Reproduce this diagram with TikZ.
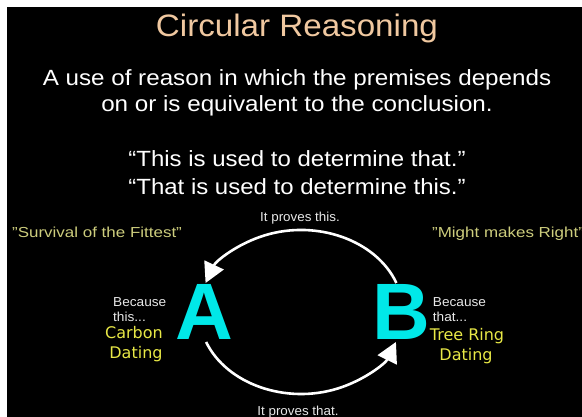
\documentclass[tikz,border=0pt]{standalone}
\usepackage{fontspec}
\usepackage{graphicx}
\setmainfont{Liberation Sans}
\newfontfamily\dejavu{DejaVu Sans}
\usetikzlibrary{arrows.meta}
\definecolor{titlecol}{RGB}{240,200,160}
\definecolor{quotecol}{RGB}{205,205,125}
\definecolor{datecol}{RGB}{232,232,70}
\definecolor{lettercol}{RGB}{0,232,232}
\definecolor{smallcol}{RGB}{232,232,232}
\newcommand{\sx}[2]{\scalebox{#1}[1]{#2}}
\newcommand{\fs}[1]{\fontsize{#1}{#1}\selectfont}
\tikzset{
  txt/.style={text=white, inner sep=0pt, anchor=base},
  txtw/.style={txt, anchor=base west},
  letter/.style={txt, text=lettercol, font=\fs{80}\bfseries},
  datelbl/.style={txt, text=datecol, font=\dejavu\fs{16}},
  smalllbl/.style={txtw, text=smallcol, font=\fs{13}},
  saying/.style={txtw, text=quotecol, font=\fs{14.5}},
  loop/.style={white, line width=2.6pt, -{Triangle[length=20pt,width=21pt]}}
}
\begin{document}
\begin{tikzpicture}[x=1pt,y=1pt]
\useasboundingbox (0,0) rectangle (582,417);
\fill[white] (0,0) rectangle (582,417);
\fill[black] (7,0) rectangle (582,410);
% texts
\node[txt, text=titlecol, font=\fs{31}] (title) at (297,380) {\sx{1.07}{Circular Reasoning}};
\node[txt, font=\fs{22}] (def1) at (297,331) {\sx{1.1}{A use of reason in which the premises depends}};
\node[txt, font=\fs{22}] (def2) at (297,305) {\sx{1.1}{on or is equivalent to the conclusion.}};
\node[txt, font=\fs{22}] (q1) at (297,250) {\sx{1.09}{“This is used to determine that.”}};
\node[txt, font=\fs{22}] (q2) at (297,222) {\sx{1.09}{“That is used to determine this.”}};
\node[txt, text=smallcol, font=\fs{13}] (top) at (300,195) {\sx{1.03}{It proves this.}};
\node[txt, text=smallcol, font=\fs{13}] (bot) at (298,1) {\sx{1.03}{It proves that.}};
\node[saying] (surv) at (12,179) {\sx{1.17}{"Survival of the Fittest"}};
\node[saying] (might) at (432,179) {\sx{1.17}{"Might makes Right"}};
% letters
\node[letter] (A) at (204,77) {A};
\node[letter] (B) at (401,77) {B};
% side labels
\node[smalllbl] (bc1) at (113,110.3) {\sx{1.05}{Because}};
\node[smalllbl] (th1) at (113,95.3) {\sx{1.05}{this...}};
\node[datelbl] (carb) at (134,78) {Carbon};
\node[datelbl] (dat1) at (136,58) {Dating};
\node[smalllbl] (bc2) at (432.7,110.3) {\sx{1.05}{Because}};
\node[smalllbl] (th2) at (432.7,95.3) {\sx{1.05}{that...}};
\node[datelbl] (tree) at (467,76) {Tree Ring};
\node[datelbl] (dat2) at (466,56) {Dating};
% loop
\coordinate (Bt) at (396.4,134);
\coordinate (At) at (205.6,134);
\coordinate (Ab) at (206.1,75);
\coordinate (Bb) at (395.9,75);
\draw[loop] (Bt) arc[start angle=20.7, end angle=159.3, x radius=102pt, y radius=82pt];
\draw[loop] (Ab) arc[start angle=201.46, end angle=338.54, x radius=102pt, y radius=82pt];
\end{tikzpicture}
\end{document}
